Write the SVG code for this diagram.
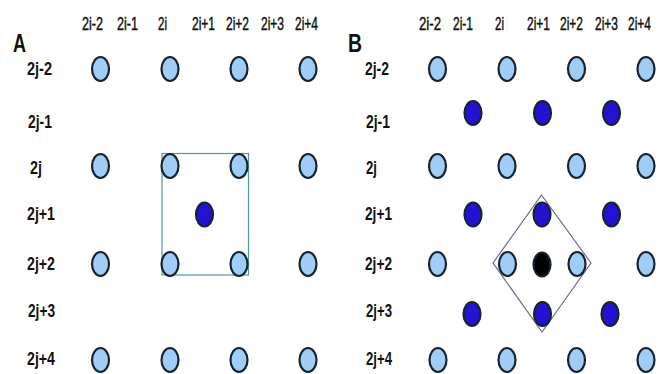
<svg xmlns="http://www.w3.org/2000/svg" width="661" height="374" viewBox="0 0 661 374">
<style>
.bg{fill:#ffffff}
.hd{font-family:"Liberation Sans",Arial,sans-serif;font-size:17.5px;fill:#111;stroke:#111;stroke-width:0.45}
.rl{font-family:"Liberation Sans",Arial,sans-serif;font-size:17.5px;font-weight:bold;fill:#111}
.pl{font-family:"Liberation Sans",Arial,sans-serif;font-size:26px;font-weight:bold;fill:#111}
.lt{fill:#9fcdf5;stroke:#17232e;stroke-width:2.2}
.dk{fill:#2412d2;stroke:#17232e;stroke-width:2.2}
.bk{fill:#000;stroke:#17232e;stroke-width:2.2}
.cell{fill:none;stroke:#4f9a98;stroke-width:1.2}
.dia{fill:none;stroke:#6b6b95;stroke-width:1.2}
</style>
<rect class="bg" x="0" y="0" width="661" height="374"/>

<g id="panelA-labels">
<text class="pl" x="13" y="52" textLength="13" lengthAdjust="spacingAndGlyphs">A</text>
<text class="hd" x="82" y="30" textLength="21" lengthAdjust="spacingAndGlyphs">2i-2</text>
<text class="hd" x="117" y="30" textLength="21" lengthAdjust="spacingAndGlyphs">2i-1</text>
<text class="hd" x="158" y="30" textLength="9" lengthAdjust="spacingAndGlyphs">2i</text>
<text class="hd" x="192" y="30" textLength="23" lengthAdjust="spacingAndGlyphs">2i+1</text>
<text class="hd" x="226" y="30" textLength="23" lengthAdjust="spacingAndGlyphs">2i+2</text>
<text class="hd" x="261" y="30" textLength="23" lengthAdjust="spacingAndGlyphs">2i+3</text>
<text class="hd" x="295" y="30" textLength="23" lengthAdjust="spacingAndGlyphs">2i+4</text>
<text class="rl" x="27" y="75" textLength="25" lengthAdjust="spacingAndGlyphs">2j-2</text>
<text class="rl" x="28" y="128" textLength="24" lengthAdjust="spacingAndGlyphs">2j-1</text>
<text class="rl" x="30" y="174" textLength="12" lengthAdjust="spacingAndGlyphs">2j</text>
<text class="rl" x="27" y="220" textLength="28" lengthAdjust="spacingAndGlyphs">2j+1</text>
<text class="rl" x="27" y="270" textLength="28" lengthAdjust="spacingAndGlyphs">2j+2</text>
<text class="rl" x="28" y="317" textLength="27" lengthAdjust="spacingAndGlyphs">2j+3</text>
<text class="rl" x="27" y="365" textLength="28" lengthAdjust="spacingAndGlyphs">2j+4</text>
</g>

<g id="panelA-cell">
<rect class="cell" x="162" y="153.5" width="86.5" height="121.5"/>
</g>

<g id="panelA-sites">
<ellipse class="lt" cx="100.5" cy="69" rx="8.5" ry="12"/>
<ellipse class="lt" cx="170" cy="69" rx="8.5" ry="12"/>
<ellipse class="lt" cx="239" cy="69" rx="8.5" ry="12"/>
<ellipse class="lt" cx="308" cy="69" rx="8.5" ry="12"/>
<ellipse class="lt" cx="100.5" cy="166" rx="8.5" ry="12"/>
<ellipse class="lt" cx="170" cy="166" rx="8.5" ry="12"/>
<ellipse class="lt" cx="239" cy="166" rx="8.5" ry="12"/>
<ellipse class="lt" cx="308" cy="166" rx="8.5" ry="12"/>
<ellipse class="dk" cx="204.5" cy="214.5" rx="8.5" ry="12"/>
<ellipse class="lt" cx="100.5" cy="264" rx="8.5" ry="12"/>
<ellipse class="lt" cx="170" cy="264" rx="8.5" ry="12"/>
<ellipse class="lt" cx="239" cy="264" rx="8.5" ry="12"/>
<ellipse class="lt" cx="308" cy="264" rx="8.5" ry="12"/>
<ellipse class="lt" cx="100.5" cy="360" rx="8.5" ry="12"/>
<ellipse class="lt" cx="170" cy="360" rx="8.5" ry="12"/>
<ellipse class="lt" cx="239" cy="360" rx="8.5" ry="12"/>
<ellipse class="lt" cx="308" cy="360" rx="8.5" ry="12"/>
</g>

<g id="panelB-labels">
<text class="pl" x="348" y="52" textLength="14" lengthAdjust="spacingAndGlyphs">B</text>
<text class="hd" x="419" y="30" textLength="22" lengthAdjust="spacingAndGlyphs">2i-2</text>
<text class="hd" x="453" y="30" textLength="20" lengthAdjust="spacingAndGlyphs">2i-1</text>
<text class="hd" x="495" y="30" textLength="9" lengthAdjust="spacingAndGlyphs">2i</text>
<text class="hd" x="527" y="30" textLength="23" lengthAdjust="spacingAndGlyphs">2i+1</text>
<text class="hd" x="560" y="30" textLength="23" lengthAdjust="spacingAndGlyphs">2i+2</text>
<text class="hd" x="595" y="30" textLength="23" lengthAdjust="spacingAndGlyphs">2i+3</text>
<text class="hd" x="628" y="30" textLength="23" lengthAdjust="spacingAndGlyphs">2i+4</text>
<text class="rl" x="365" y="75" textLength="24" lengthAdjust="spacingAndGlyphs">2j-2</text>
<text class="rl" x="366" y="128" textLength="24" lengthAdjust="spacingAndGlyphs">2j-1</text>
<text class="rl" x="366" y="174" textLength="11" lengthAdjust="spacingAndGlyphs">2j</text>
<text class="rl" x="365" y="220" textLength="27" lengthAdjust="spacingAndGlyphs">2j+1</text>
<text class="rl" x="365" y="270" textLength="27" lengthAdjust="spacingAndGlyphs">2j+2</text>
<text class="rl" x="366" y="317" textLength="26" lengthAdjust="spacingAndGlyphs">2j+3</text>
<text class="rl" x="366" y="365" textLength="26" lengthAdjust="spacingAndGlyphs">2j+4</text>
</g>

<g id="panelB-cell">
<polygon class="dia" points="541.5,195 591,263 542,332 493,263"/>
</g>

<g id="panelB-sites">
<ellipse class="lt" cx="437.5" cy="69" rx="8.5" ry="12"/>
<ellipse class="lt" cx="507" cy="69" rx="8.5" ry="12"/>
<ellipse class="lt" cx="576.5" cy="69" rx="8.5" ry="12"/>
<ellipse class="lt" cx="646" cy="69" rx="8.5" ry="12"/>
<ellipse class="dk" cx="473" cy="113" rx="8.5" ry="12"/>
<ellipse class="dk" cx="542.5" cy="113" rx="8.5" ry="12"/>
<ellipse class="dk" cx="611.5" cy="113" rx="8.5" ry="12"/>
<ellipse class="lt" cx="437.5" cy="166" rx="8.5" ry="12"/>
<ellipse class="lt" cx="507" cy="166" rx="8.5" ry="12"/>
<ellipse class="lt" cx="576.5" cy="166" rx="8.5" ry="12"/>
<ellipse class="lt" cx="646" cy="166" rx="8.5" ry="12"/>
<ellipse class="dk" cx="473" cy="214.5" rx="8.5" ry="12"/>
<ellipse class="dk" cx="542" cy="214.5" rx="8.5" ry="12"/>
<ellipse class="dk" cx="611.5" cy="214.5" rx="8.5" ry="12"/>
<ellipse class="lt" cx="437.5" cy="264" rx="8.5" ry="12"/>
<ellipse class="lt" cx="507.5" cy="264" rx="8.5" ry="12"/>
<ellipse class="bk" cx="542" cy="264.5" rx="8.5" ry="12"/>
<ellipse class="lt" cx="577" cy="264" rx="8.5" ry="12"/>
<ellipse class="lt" cx="646" cy="264" rx="8.5" ry="12"/>
<ellipse class="dk" cx="472" cy="314" rx="8.5" ry="12"/>
<ellipse class="dk" cx="542.5" cy="314" rx="8.5" ry="12"/>
<ellipse class="dk" cx="610" cy="314" rx="8.5" ry="12"/>
<ellipse class="lt" cx="438" cy="360" rx="8.5" ry="12"/>
<ellipse class="lt" cx="507" cy="360" rx="8.5" ry="12"/>
<ellipse class="lt" cx="576.5" cy="360" rx="8.5" ry="12"/>
<ellipse class="lt" cx="646" cy="360" rx="8.5" ry="12"/>
</g>
</svg>
